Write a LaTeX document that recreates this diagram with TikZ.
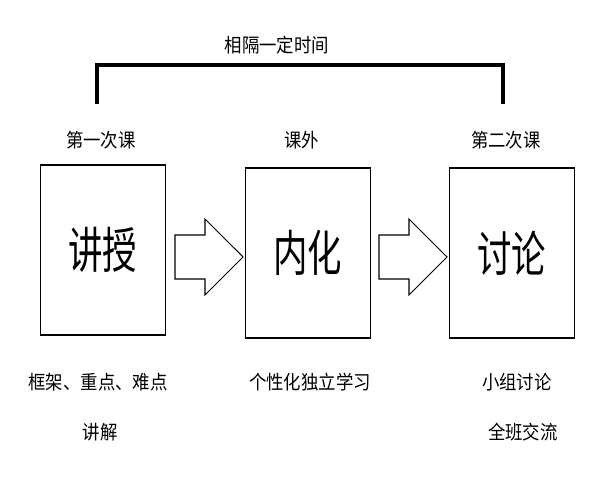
\documentclass[tikz,border=0pt]{standalone}
\usepackage{fontspec}
\newfontfamily\cjk{Noto Sans CJK SC}
\usetikzlibrary{shapes.arrows}
\newcommand{\narrow}[2]{\scalebox{#1}[1]{#2}}
\begin{document}
\begin{tikzpicture}[x=0.02cm,y=-0.02cm,
    stage/.style={draw,line width=0.8pt,minimum width=2.5cm,minimum height=3.4cm,inner sep=0pt,font=\cjk\fontsize{28}{30}\selectfont},
    label/.style={font=\cjk\fontsize{11}{13}\selectfont},
    flow/.style={draw,single arrow,line width=0.6pt,minimum height=1.36cm,inner xsep=0pt,inner ysep=0.43cm,single arrow head extend=0.32cm}]
    \useasboundingbox (0,0) rectangle (600,480);

    % bracket
    \coordinate (bl) at (97,104);
    \coordinate (br) at (503,104);
    \draw[line width=2.5pt] (bl) -- (97,65) -- (503,65) -- (br);
    \node[label] (gap) at (277,45) {\narrow{0.9}{相隔一定时间}};

    % stages
    \node[stage] (s1) at (103,250) {\narrow{0.7}{讲授}};
    \node[stage] (s2) at (308,253) {\narrow{0.7}{内化}};
    \node[stage] (s3) at (512,253) {\narrow{0.7}{讨论}};

    \node[label] (t1) at (101,140) {\narrow{0.9}{第一次课}};
    \node[label] (t2) at (302,140) {\narrow{0.9}{课外}};
    \node[label] (t3) at (506,140) {\narrow{0.9}{第二次课}};

    \node[flow] (a1) at (198,257) {};
    \node[flow] (a2) at (402,257) {};

    \node[label] (d1) at (98,382) {\narrow{0.9}{框架、重点、难点}};
    \node[label] (d1b) at (100,432) {\narrow{0.9}{讲解}};
    \node[label] (d2) at (310,382) {\narrow{0.9}{个性化独立学习}};
    \node[label] (d3) at (517,382) {\narrow{0.9}{小组讨论}};
    \node[label] (d3b) at (523,432) {\narrow{0.9}{全班交流}};
\end{tikzpicture}
\end{document}
